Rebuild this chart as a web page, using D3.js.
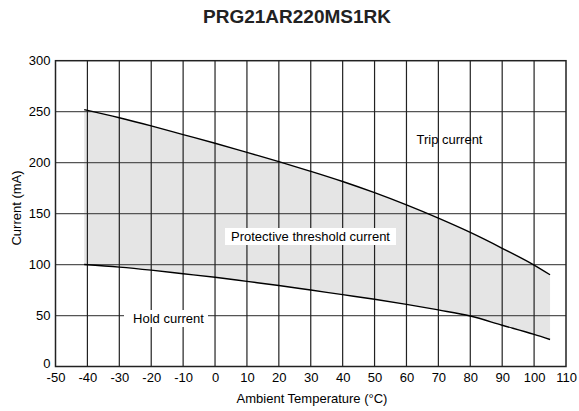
<!DOCTYPE html>
<html><head><meta charset="utf-8">
<script src="https://cdn.jsdelivr.net/npm/d3@7"></script>
<style>body{margin:0;background:#fff;} svg{display:block;}</style>
</head><body>
<svg id="chart" width="579" height="411"></svg>
<script>
const title = "PRG21AR220MS1RK";
const xTicks = [-50,-40,-30,-20,-10,0,10,20,30,40,50,60,70,80,90,100,110];
const yTicks = [0,50,100,150,200,250,300];
const tripTemp = [-41,-30,-20,-10,0,10,20,30,40,50,60,70,80,90,100,105];
const tripCurrent = [252,244,236,227.5,219,210,201,191.5,181.5,170.5,158.5,145.5,131.5,116,99.5,90];
const holdTemp = [-41,-30,-20,-10,0,10,20,30,40,50,60,70,80,90,100,105];
const holdCurrent = [100,97.5,94.5,91,87.5,83.5,79.5,75,70.5,66,61,55.5,49.5,40.5,31.5,26.5];
const labels = ["Trip current","Protective threshold current","Hold current"];

const svg = d3.select("#chart");
const x = d3.scaleLinear().domain([-50,110]).range([55.5,566]);
const y = d3.scaleLinear().domain([0,300]).range([366.5,60.7]);
const font = "'Liberation Sans', Arial, Helvetica, sans-serif";

const trip = tripTemp.map((t,i)=>({t, v: tripCurrent[i]}));
const hold = holdTemp.map((t,i)=>({t, v: holdCurrent[i]}));

// fill band
const band = trip.map((d,i)=>({t:d.t, hi:d.v, lo:hold[i].v}));
svg.append("path").datum(band)
  .attr("fill","#e5e5e5")
  .attr("d", d3.area().x(d=>x(d.t)).y0(d=>y(d.lo)).y1(d=>y(d.hi)).curve(d3.curveMonotoneX));

// gridlines
svg.append("g").selectAll("line").data(yTicks.slice(1,-1)).join("line")
  .attr("x1", x(-50)).attr("x2", x(110))
  .attr("y1", d=>y(d)).attr("y2", d=>y(d))
  .attr("stroke","#555").attr("stroke-width",1.2);
svg.append("g").selectAll("line").data(xTicks.slice(1,-1)).join("line")
  .attr("x1", d=>x(d)).attr("x2", d=>x(d))
  .attr("y1", y(0)).attr("y2", y(300))
  .attr("stroke","#222").attr("stroke-width",1.2);

// frame
svg.append("rect").attr("x", x(-50)).attr("y", y(300))
  .attr("width", x(110)-x(-50)).attr("height", y(0)-y(300))
  .attr("fill","none").attr("stroke","#222").attr("stroke-width",1.5);

// curves
const line = d3.line().x(d=>x(d.t)).y(d=>y(d.v)).curve(d3.curveMonotoneX);
svg.append("path").datum(trip).attr("fill","none").attr("stroke","#000").attr("stroke-width",1.4).attr("d",line);
svg.append("path").datum(hold).attr("fill","none").attr("stroke","#000").attr("stroke-width",1.4).attr("d",line);

// axes
const xAxis = svg.append("g").attr("transform",`translate(0,${y(0)})`)
  .call(d3.axisBottom(x).tickValues(xTicks).tickSize(0).tickPadding(6).tickFormat(d=>String(d)));
const yAxis = svg.append("g").attr("transform",`translate(${x(-50)},0)`)
  .call(d3.axisLeft(y).tickValues(yTicks).tickSize(0).tickPadding(5).tickFormat(d=>String(d)));
[xAxis,yAxis].forEach(a=>{
  a.select(".domain").remove();
  a.selectAll("text").attr("font-family",font).attr("font-size",13).attr("fill","#000");
});
yAxis.selectAll(".tick").filter(d=>d===0).select("text").attr("dy","0.08em");

// annotations
svg.append("text").attr("x",449.5).attr("y",139).attr("dy","0.35em")
  .attr("text-anchor","middle").attr("font-family",font).attr("font-size",13).text(labels[0]);

svg.append("rect").attr("x",225).attr("y",228).attr("width",171).attr("height",17).attr("fill","#fff");
svg.append("text").attr("x",310.5).attr("y",236.5).attr("dy","0.35em")
  .attr("text-anchor","middle").attr("font-family",font).attr("font-size",13).text(labels[1]);

svg.append("rect").attr("x",124).attr("y",310).attr("width",84).attr("height",17).attr("fill","#fff");
svg.append("text").attr("x",168.5).attr("y",318.5).attr("dy","0.35em")
  .attr("text-anchor","middle").attr("font-family",font).attr("font-size",13).text(labels[2]);

// axis titles
svg.append("text").attr("x",312).attr("y",398).attr("dy","0.35em")
  .attr("text-anchor","middle").attr("font-family",font).attr("font-size",13)
  .text("Ambient Temperature (\u00B0C)");
svg.append("text").attr("transform","translate(16,208) rotate(-90)").attr("dy","0.35em")
  .attr("text-anchor","middle").attr("font-family",font).attr("font-size",13)
  .text("Current (mA)");

// title
svg.append("text").attr("x",297).attr("y",23)
  .attr("text-anchor","middle").attr("font-family",font)
  .attr("font-weight","bold").attr("font-size",19).attr("fill","#222").text(title);
</script>
</body></html>
